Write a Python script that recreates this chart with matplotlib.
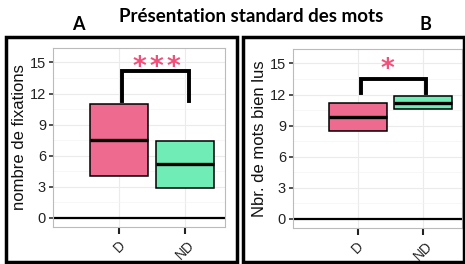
import matplotlib
matplotlib.use("Agg")
import matplotlib.pyplot as plt
from matplotlib.patches import Rectangle

categories = ["D", "ND"]
colors = ["#EE6A8E", "#70EDB6"]

# Panel A: nombre de fixations (q1, median, q3)
a_q1 = [4.0, 2.85]
a_med = [7.5, 5.15]
a_q3 = [11.0, 7.45]
a_bracket = [14.2, 11.3]   # bar height, leg bottom
a_nstars = 3
a_star_y = 14.45

# Panel B: Nbr. de mots bien lus
b_q1 = [8.5, 10.6]
b_med = [9.8, 11.2]
b_q3 = [11.2, 11.9]
b_bracket = [13.5, 12.1]
b_nstars = 1
b_star_y = 14.35

yticks = [0, 3, 6, 9, 12, 15]

fig = plt.figure(figsize=(4.65, 2.64), dpi=100)
W, H = 465, 264

def ax_rect(x0, y0, x1, y1):
    return [x0 / W, 1 - y1 / H, (x1 - x0) / W, (y1 - y0) / H]

def draw_panel(ax, q1, med, q3, bracket, nstars, star_y, star_x, ylabel):
    pos = [1, 2]
    ax.set_xlim(0.0, 2.6)
    ax.set_ylim(-0.9, 16.4)
    ax.set_yticks(yticks)
    ax.set_yticks([1.5, 4.5, 7.5, 10.5, 13.5], minor=True)
    ax.set_xticks(pos)
    ax.set_xticklabels(categories, rotation=45, ha="center", va="top",
                       fontsize=10, family="Liberation Sans", color="#222222")
    ax.tick_params(axis="y", which="minor", length=0)
    ax.tick_params(axis="y", which="major", length=3, width=1.2, color="#333333",
                   labelsize=10.5, labelcolor="#222222", pad=2)
    ax.tick_params(axis="x", length=5, width=1.5, color="#222222", pad=3)
    for lab in ax.get_yticklabels():
        lab.set_family("Liberation Sans")
    ax.grid(True, which="major", color="#EBEBEB", lw=0.8)
    ax.grid(True, which="minor", color="#F4F4F4", lw=0.5)
    ax.set_axisbelow(True)
    for s in ax.spines.values():
        s.set_color("#BBBBBB")
        s.set_linewidth(0.8)
    ax.axhline(0, color="black", lw=1.6, zorder=2)
    width = 0.88
    for i, p in enumerate(pos):
        ax.bar(p, q3[i] - q1[i], bottom=q1[i], width=width, color=colors[i],
               edgecolor="black", lw=1.1, zorder=3)
        ax.hlines(med[i], p - width / 2, p + width / 2, color="black", lw=2.4, zorder=4)
    top, leg = bracket
    ax.plot([pos[0] + 0.04, pos[0] + 0.04, pos[1] + 0.05, pos[1] + 0.05],
            [leg, top, top, leg],
            color="black", lw=2.8, solid_joinstyle="miter", zorder=4)
    spacing = 0.255
    for k in range(nstars):
        x = star_x + (k - (nstars - 1) / 2) * spacing
        ax.text(x, star_y, "*", ha="center", va="center",
                color="#F0507A", fontsize=19, fontweight="bold", zorder=5,
                family="DejaVu Sans")
    ax.set_ylabel(ylabel, fontsize=12, family="Liberation Sans", labelpad=2,
                  color="#111111")

axA = fig.add_axes(ax_rect(53, 48, 225, 227))
draw_panel(axA, a_q1, a_med, a_q3, a_bracket, a_nstars, a_star_y, 1.567,
           "nombre de fixations")
axB = fig.add_axes(ax_rect(293, 49, 462, 228))
draw_panel(axB, b_q1, b_med, b_q3, b_bracket, b_nstars, b_star_y, 1.46,
           "Nbr. de mots bien lus")

# panel frames
for (x0, y0, x1, y1) in [(6, 37, 237, 262), (243, 37, 464, 262)]:
    fig.add_artist(Rectangle((x0 / W, 1 - y1 / H), (x1 - x0) / W, (y1 - y0) / H,
                             transform=fig.transFigure, fill=False,
                             edgecolor="black", lw=2.5))

fig.text(251 / W, 1 - 17 / H, "Présentation standard des mots", ha="center",
         va="center", fontsize=13.5, fontweight="bold", family="Lato")
fig.text(78 / W, 1 - 25 / H, "A", ha="center", va="center", fontsize=13,
         fontweight="bold", family="Lato")
fig.text(425 / W, 1 - 25 / H, "B", ha="center", va="center", fontsize=13,
         fontweight="bold", family="Lato")

fig.savefig("out.png", dpi=100)
